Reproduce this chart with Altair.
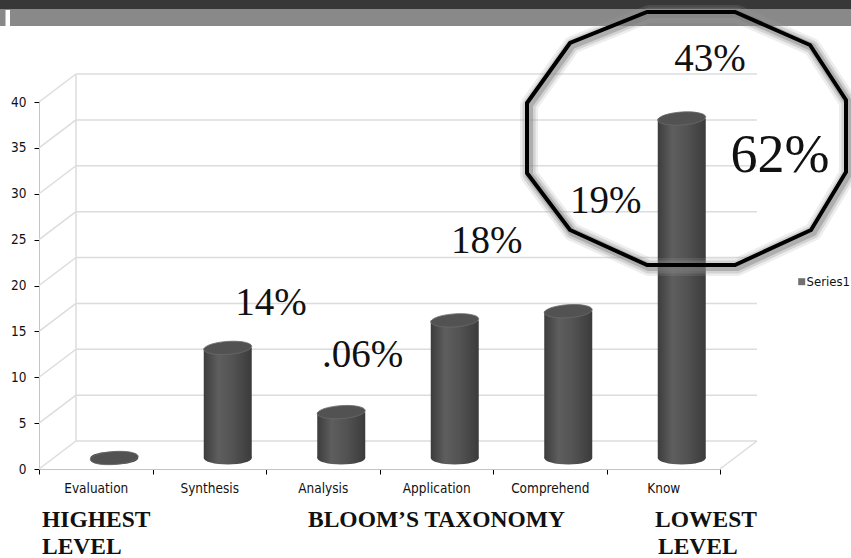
import altair as alt
import pandas as pd

# ---------------- data ----------------
categories = ["Evaluation", "Synthesis", "Analysis", "Application", "Comprehend", "Know"]
counts = [0, 12, 5, 15, 16, 37]
y_ticks = [0, 5, 10, 15, 20, 25, 30, 35, 40]
pct_labels = ["14%", ".06%", "18%", "19%", "43%", "62%"]
bottom_labels = ["HIGHEST", "LEVEL", "BLOOM\u2019S TAXONOMY", "LOWEST", "LEVEL"]
series_names = ["Series1"]

# ---------------- layout ----------------
TOTAL_W, TOTAL_H = 851, 558
PAD_L, PAD_T = 39, 102
W, H = 681, 367
DEPTH_X, DEPTH_Y = 37, -28
BAR_DX, BAR_DY = 18.5, -11
BAR_W = 48
AX_FONT = "DejaVu Sans Condensed, Liberation Sans Narrow, DejaVu Sans, sans-serif"
SERIF = "Liberation Serif, DejaVu Serif, serif"

# annotation placement (absolute px: center x, baseline y, font size)
ann_place = [(271, 315, 39), (362.5, 367, 39), (486.7, 253, 39),
             (605.8, 213, 39), (710, 70.7, 39), (780, 171.7, 54)]
bottom_place = [(42, 527), (42, 554), (308, 527), (655, 527), (658, 554)]

ELLIPSE = "M-24,0 A24,6.5 0 1,1 24,0 A24,6.5 0 1,1 -24,0 Z"
OCT_CX, OCT_CY = 686.7, 138.3
OCT_PTS = [(-39.7, -126.3), (48.3, -126.3), (123.3, -93.3), (159.3, -38.3),
           (159.3, 33.7), (124.3, 91.7), (48.3, 126.7), (-39.7, 126.7),
           (-116.7, 91.7), (-159.7, 34.7), (-159.7, -35.3), (-116.7, -95.3)]
OCT_PATH = "M" + " L".join(f"{a},{b}" for a, b in OCT_PTS) + " Z"

df = pd.DataFrame({"category": categories, "count": counts})
tick_df = pd.DataFrame({"v": y_ticks})
one = pd.DataFrame({"k": [0]})

x_scale = alt.Scale(type="band", domain=categories, paddingInner=0, paddingOuter=0)
x_axis = alt.Axis(title=None, labelAngle=0, tickBand="extent", tickSize=5, tickColor="#000000",
                  domainColor="#c4c4c4", labelFont=AX_FONT, labelFontSize=13.5,
                  labelColor="#111111", labelPadding=7)
y_scale = alt.Scale(domain=[0, 40], nice=False, zero=True)
y_axis = alt.Axis(title=None, values=y_ticks, grid=False, tickSize=5, tickColor="#000000",
                  domainColor="#c4c4c4", labelFont=AX_FONT, labelFontSize=13.5,
                  labelColor="#111111", labelPadding=8)


def xe():
    return alt.X("category:N", sort=categories, scale=x_scale, axis=x_axis)


def yf(field):
    return alt.Y(field, type="quantitative", scale=y_scale, axis=y_axis)


def yd(val):
    return alt.Y(datum=val, type="quantitative", scale=y_scale, axis=y_axis)


layers = []

# header band
layers.append(alt.Chart(one).mark_rect(color="#383838").encode(
    x=alt.value(-PAD_L), x2=alt.value(TOTAL_W - PAD_L), y=alt.value(-PAD_T), y2=alt.value(-PAD_T + 9)))
layers.append(alt.Chart(one).mark_rect(color="#898989").encode(
    x=alt.value(-PAD_L), x2=alt.value(TOTAL_W - PAD_L), y=alt.value(-PAD_T + 9), y2=alt.value(-PAD_T + 26)))
layers.append(alt.Chart(one).mark_rect(color="#ffffff").encode(
    x=alt.value(-PAD_L + 5.5), x2=alt.value(-PAD_L + 10), y=alt.value(-PAD_T + 10), y2=alt.value(-PAD_T + 26)))

GRID_C = "#dcdcdc"
# back-wall gridlines
layers.append(alt.Chart(tick_df).mark_rule(color=GRID_C, strokeWidth=1.5, yOffset=DEPTH_Y).encode(
    x=alt.value(DEPTH_X), x2=alt.value(W + DEPTH_X), y=yf("v")))
# side-wall diagonals
layers.append(alt.Chart(tick_df).mark_rule(color=GRID_C, strokeWidth=1.5, y2Offset=DEPTH_Y).encode(
    x=alt.value(0), x2=alt.value(DEPTH_X), y=yf("v"), y2=alt.Y2("v")))
# back wall left edge
layers.append(alt.Chart(one).mark_rule(color=GRID_C, strokeWidth=1.5, yOffset=DEPTH_Y, y2Offset=DEPTH_Y).encode(
    x=alt.value(DEPTH_X), y=yd(0), y2=alt.Y2(datum=40)))
# floor right diagonal
layers.append(alt.Chart(one).mark_rule(color=GRID_C, strokeWidth=1.5, y2Offset=DEPTH_Y).encode(
    x=alt.value(W), x2=alt.value(W + DEPTH_X), y=yd(0), y2=alt.Y2(datum=0)))

bar_grad = alt.Gradient(
    gradient="linear",
    stops=[alt.GradientStop(offset=0, color="#3c3c3c"),
           alt.GradientStop(offset=0.3, color="#5e5e5e"),
           alt.GradientStop(offset=0.6, color="#535353"),
           alt.GradientStop(offset=1, color="#3b3b3b")],
    x1=0, x2=1, y1=0, y2=0)

# cylinder bottoms
layers.append(alt.Chart(df).mark_point(shape=ELLIPSE, size=4, filled=True, fill=bar_grad, opacity=1,
                                      strokeWidth=0, xOffset=BAR_DX, yOffset=BAR_DY).encode(
    x=xe(), y=yd(0)))
# cylinder bodies
layers.append(alt.Chart(df).mark_bar(size=BAR_W, fill=bar_grad, xOffset=BAR_DX, yOffset=BAR_DY,
                                    y2Offset=BAR_DY).encode(
    x=xe(), y=yf("count"), y2=alt.Y2(datum=0)))
# cylinder tops
layers.append(alt.Chart(df).mark_point(shape=ELLIPSE, size=4, filled=True, fill="#525252", stroke="#6a6a6a",
                                      strokeWidth=0.8, opacity=1, angle=356,
                                      xOffset=BAR_DX, yOffset=BAR_DY).encode(
    x=xe(), y=yf("count")))

# percentage annotations
for label, (px, py, fs) in zip(pct_labels, ann_place):
    layers.append(alt.Chart(one).mark_text(text=label, font=SERIF, fontSize=fs, align="center",
                                          baseline="alphabetic", color="#111111").encode(
        x=alt.value(px - PAD_L), y=alt.value(py - PAD_T)))

# bottom captions
for label, (px, py) in zip(bottom_labels, bottom_place):
    layers.append(alt.Chart(one).mark_text(text=label, font=SERIF, fontSize=23.5, fontWeight="bold",
                                          align="left", baseline="alphabetic", color="#111111").encode(
        x=alt.value(px - PAD_L), y=alt.value(py - PAD_T)))

# legend
layers.append(alt.Chart(one).mark_point(shape="square", size=49, filled=True, color="#707070", opacity=1).encode(
    x=alt.value(801.7 - PAD_L), y=alt.value(281.7 - PAD_T)))
layers.append(alt.Chart(one).mark_text(text=series_names[0], font=AX_FONT, fontSize=13, align="left",
                                      baseline="middle", color="#111111").encode(
    x=alt.value(806.5 - PAD_L), y=alt.value(281.7 - PAD_T)))

# highlight dodecagon with soft glow
for sw, col, op in [(18, "#a0a0a0", 0.18), (13, "#909090", 0.28), (8, "#7a7a7a", 0.4)]:
    layers.append(alt.Chart(one).mark_point(shape=OCT_PATH, size=4, filled=False, stroke=col, strokeWidth=sw,
                                          opacity=op, strokeJoin="round").encode(
        x=alt.value(OCT_CX - PAD_L + 2), y=alt.value(OCT_CY - PAD_T + 2)))
layers.append(alt.Chart(one).mark_point(shape=OCT_PATH, size=4, filled=False, stroke="#000000", strokeWidth=4,
                                      opacity=1, strokeJoin="miter").encode(
    x=alt.value(OCT_CX - PAD_L), y=alt.value(OCT_CY - PAD_T)))

chart = alt.layer(*layers).properties(
    width=W, height=H,
    padding={"left": PAD_L, "top": PAD_T, "right": TOTAL_W - PAD_L - W, "bottom": TOTAL_H - PAD_T - H},
    autosize=alt.AutoSizeParams(type="none"),
    background="#ffffff",
).configure_view(stroke=None)

chart.save("out.html", embed_options={"renderer": "svg", "actions": False})
